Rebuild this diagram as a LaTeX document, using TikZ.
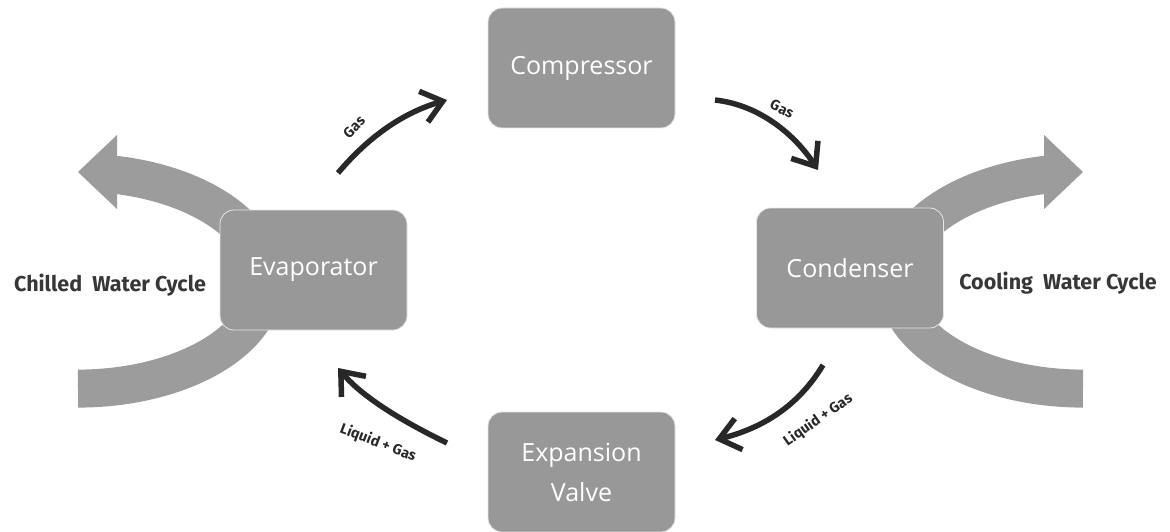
\documentclass[tikz,border=0pt]{standalone}
\usepackage{fontspec}
\setmainfont{Open Sans}
\newfontfamily\labelfont{Fira Sans}
\usetikzlibrary{arrows.meta}
\definecolor{boxgray}{RGB}{152,152,152}
\definecolor{bandgray}{RGB}{156,156,156}
\definecolor{ink}{RGB}{40,40,40}
\definecolor{labelink}{RGB}{55,55,55}
\begin{document}
\begin{tikzpicture}[x=1pt,y=-1pt,
  unitbox/.style={draw=white!75!boxgray, line width=0.8pt, fill=boxgray, rounded corners=14pt,
    minimum width=187pt, minimum height=120pt, inner sep=0pt, text=white,
    font=\fontsize{25}{40}\selectfont, align=center},
  flow/.style={draw=ink, line width=5.5pt, -{Straight Barb[length=20pt,width=32pt]}},
  flowlabel/.style={text=ink, font=\labelfont\bfseries\fontsize{14.5}{16}\selectfont, inner sep=0pt},
  cyclelabel/.style={text=labelink, font=\labelfont\bfseries\fontsize{21.5}{24}\selectfont, inner sep=0pt},
  band/.style={draw=bandgray, line width=38pt}]
\useasboundingbox (0,0) rectangle (1170,532);

% water cycle bands
\draw[band] plot[domain=-80:90, samples=90] ({78+187*cos(\x)},{280.6+108*sin(\x)});
\fill[bandgray] (78,172) -- (117,135) -- (117,209) -- cycle;
\draw[band] plot[domain=90:260, samples=90] ({1083+187*cos(\x)},{280.6+108*sin(\x)});
\fill[bandgray] (1083,172) -- (1044,135) -- (1044,209) -- cycle;

% units
\node[unitbox] (comp) at (581.5,68) {Compressor};
\node[unitbox] (evap) at (313.5,270) {Evaporator};
\node[unitbox] (cond) at (850,268) {Condenser};
\node[unitbox] (exp) at (581.5,472) {Expansion\\Valve};

% cycle labels
\node[cyclelabel] (chilled) at (110,285) {Chilled\ \ Water Cycle};
\node[cyclelabel] (cooling) at (1058,283) {Cooling\ \ Water Cycle};

% refrigerant flow
\coordinate (a1s) at (338,173); \coordinate (a1e) at (447,100);
\coordinate (a2s) at (715,100); \coordinate (a2e) at (818,170);
\coordinate (a3s) at (823,365); \coordinate (a3e) at (715,440);
\coordinate (a4s) at (447,443); \coordinate (a4e) at (338,368);
\draw[flow] (a1s) .. controls (370,135) and (405,112) .. (a1e);
\draw[flow] (a2s) .. controls (760,105) and (795,135) .. (a2e);
\draw[flow] (a3s) .. controls (805,395) and (775,425) .. (a3e);
\draw[flow] (a4s) .. controls (410,425) and (365,400) .. (a4e);

\node[flowlabel, rotate=45] (g1) at (354,127) {Gas};
\node[flowlabel, rotate=-27] (g2) at (782,109) {Gas};
\node[flowlabel, rotate=-21] (lg1) at (378,443) {Liquid + Gas};
\node[flowlabel, rotate=35] (lg2) at (818,420) {Liquid + Gas};
\end{tikzpicture}
\end{document}
